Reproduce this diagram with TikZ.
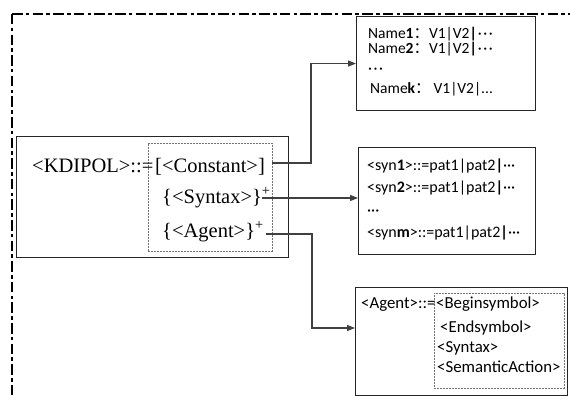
\documentclass[tikz,border=0pt]{standalone}
\usepackage{fontspec}
\setmainfont{Liberation Serif}
\newfontfamily\carlitofont{Carlito}
\newfontfamily\cjkfont{Noto Sans CJK SC}
\usetikzlibrary{arrows.meta}
% spaced middle-dot ellipsis
\newcommand{\middots}{·\hspace{1.6pt}·\hspace{1.6pt}·}

\begin{document}
\begin{tikzpicture}[x=1pt,y=-1pt,
  frame/.style={black, line width=2pt, dash pattern=on 10.5pt off 3.3pt on 3.5pt off 3.3pt},
  box/.style={draw=black!85, line width=1.1pt, inner sep=0pt, anchor=north west},
  dbox/.style={draw=black!55, line width=0.7pt, dash pattern=on 2pt off 1pt, inner sep=0pt, anchor=north west},
  conn/.style={draw=black!75, line width=1.1pt, -{Triangle[length=8pt,width=6pt]}},
  serif/.style={font=\fontsize{20.5}{20.5}\selectfont, inner sep=0pt, anchor=base west},
  sans/.style={font=\carlitofont\fontsize{15.5}{15.5}\selectfont, inner sep=0pt, anchor=base west},
  sansb/.style={font=\carlitofont\fontsize{16}{16}\selectfont, inner sep=0pt, anchor=base west},
  sansc/.style={font=\carlitofont\fontsize{16.8}{16.8}\selectfont, inner sep=0pt, anchor=base west}]
\useasboundingbox (0,0) rectangle (570,396);
\clip (0,0) rectangle (570,396);

% dash-dot outer frame
\draw[frame] (12,14) -- (600,14);
\draw[frame] (12,14) -- (12,420);

% main production box
\node[box, minimum width=272pt, minimum height=121pt] (main) at (16,136) {};
\node[dbox, minimum width=124pt, minimum height=108pt] (alts) at (148,143) {};
\node[serif] (kd) at (32,172) {<KDIPOL>::=};
\node[serif] (const) at (155,172) {[<Constant>]};
\node[serif] (syn) at (162,203) {\{<Syntax>\}\textsuperscript{+}};
\node[serif] (agent) at (162,237) {\{<Agent>\}\textsuperscript{+}};

% constant definitions
\node[box, minimum width=179pt, minimum height=94pt] (names) at (356,16) {};
\node[sans] (n1) at (368,38) {Name{\bfseries 1}{\cjkfont ：}V1|V2{\bfseries |}\hspace{1pt}\middots};
\node[sans] (n2) at (368,53) {Name{\bfseries 2}{\cjkfont ：}V1|V2{\bfseries |}\hspace{1pt}\middots};
\node[sans] (n3) at (368,74) {\middots};
\node[sans] (nk) at (370,93) {Name{\bfseries k}{\cjkfont ：}\hspace{3pt}V1|V2|...};

% syntax definitions
\node[box, minimum width=177pt, minimum height=107pt] (syns) at (358,147) {};
\node[sansb] (s1) at (367,170) {<syn{\bfseries 1}>::=pat1|pat2{\bfseries |}···};
\node[sansb] (s2) at (367,192) {<syn{\bfseries 2}>::=pat1|pat2{\bfseries |}···};
\node[sansb] (s3) at (367,215) {···};
\node[sansb] (sm) at (367,237) {<syn{\bfseries m}>::=pat1|pat2{\bfseries |}···};

% agent definition
\node[box, minimum width=212pt, minimum height=108pt] (agents) at (355,287) {};
\node[dbox, minimum width=130pt, minimum height=95pt] (parts) at (434,293) {};
\node[sansc] (a0) at (361,308) {<Agent>::=};
\node[sansc] (a1) at (436,308) {<Beginsymbol>};
\node[sansc] (a2) at (440,332) {<Endsymbol>};
\node[sansc] (a3) at (437,352) {<Syntax>};
\node[sansc] (a4) at (437,372) {<SemanticAction>};

% connectors
\coordinate (v1) at (311,0);
\coordinate (v3) at (312,0);
\coordinate (in3) at (355,328);
\coordinate (c0) at (272,163);
\coordinate (s0) at (262,198);
\coordinate (g0) at (266,234);
\draw[conn] (c0) -- (c0 -| v1) |- (names.west);
\draw[conn] (s0) -- (s0 -| syns.west);
\draw[conn] (g0) -- (g0 -| v3) |- (in3);
\end{tikzpicture}
\end{document}
